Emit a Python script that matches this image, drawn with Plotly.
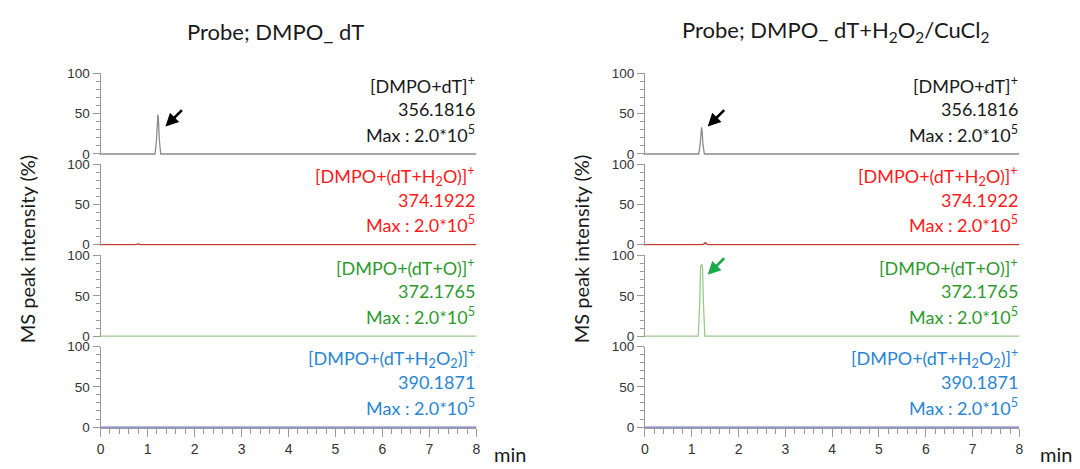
import plotly.graph_objects as go

W, H = 1080, 469

# ---------------- data ----------------
panel_titles = ["Probe; DMPO_ dT",
                "Probe; DMPO_ dT+H<sub>2</sub>O<sub>2</sub>/CuCl<sub>2</sub>"]

ion_names = ["[DMPO+dT]<sup>+</sup>",
             "[DMPO+(dT+H<sub>2</sub>O)]<sup>+</sup>",
             "[DMPO+(dT+O)]<sup>+</sup>",
             "[DMPO+(dT+H<sub>2</sub>O<sub>2</sub>)]<sup>+</sup>"]
ion_mz = ["356.1816", "374.1922", "372.1765", "390.1871"]
ion_max = ["Max : 2.0*10<sup>5</sup>"] * 4

# left column (DMPO + dT)
time_L1 = [0.0, 1.16, 1.19, 1.21, 1.22, 1.23, 1.25, 1.28, 8.0]
int_L1 = [0, 0, 18, 44, 49, 44, 18, 0, 0]
time_L2 = [0.0, 0.75, 0.80, 0.85, 8.0]
int_L2 = [0, 0, 1, 0, 0]
time_L3 = [0.0, 8.0]
int_L3 = [0, 0]
time_L4 = [0.0, 8.0]
int_L4 = [0, 0]

# right column (DMPO + dT + H2O2/CuCl2)
time_R1 = [0.0, 1.15, 1.18, 1.20, 1.21, 1.22, 1.24, 1.27, 8.0]
int_R1 = [0, 0, 12, 30, 33, 30, 12, 0, 0]
time_R2 = [0.0, 1.24, 1.29, 1.34, 8.0]
int_R2 = [0, 0, 2.5, 0, 0]
time_R3 = [0.0, 1.14, 1.17, 1.19, 1.21, 1.23, 1.25, 1.28, 8.0]
int_R3 = [0, 0, 40, 86, 89, 86, 40, 0, 0]
time_R4 = [0.0, 8.0]
int_R4 = [0, 0]

x_ticks = [0, 1, 2, 3, 4, 5, 6, 7, 8]
y_ticks = [0, 50, 100]

# arrows: (column, row, head_x, head_y, color)
arrows = [(0, 0, 1.38, 34, "#000000"),
          (1, 0, 1.34, 34, "#000000"),
          (1, 2, 1.34, 76, "#1aaa4a")]

# ---------------- style ----------------
line_colors = ["#8c8c8c", "#c0392b", "#9cc98a", "#7272c4"]
text_colors = ["#1a1a1a", "#ff1a1a", "#2e9a2e", "#2a86d4"]
FONT = "Lato"

series = [[(time_L1, int_L1), (time_L2, int_L2), (time_L3, int_L3), (time_L4, int_L4)],
          [(time_R1, int_R1), (time_R2, int_R2), (time_R3, int_R3), (time_R4, int_R4)]]

col_px = [(97.3, 476), (645.7, 1023)]
row_px = [(68.5, 151.5), (162, 245), (256, 339.3), (350, 433)]
text_off = (12, 37, 62)


def px_x(p):
    return p / W


def px_y(p):
    return 1 - p / H


fig = go.Figure()
layout = dict(width=W, height=H, margin=dict(l=0, r=0, t=0, b=0),
              paper_bgcolor="white", plot_bgcolor="white", showlegend=False)
annotations = []

YR = [-1.2, 100]
for c in range(2):
    for r in range(4):
        n = c * 4 + r + 1
        xs, ys = series[c][r]
        fig.add_trace(go.Scatter(x=xs, y=ys, mode="lines",
                                 line=dict(color=line_colors[r], width=1.3),
                                 xaxis=f"x{n}", yaxis=f"y{n}",
                                 hoverinfo="skip"))
        top, bot = row_px[r]
        x0, x1 = col_px[c]
        xa = dict(domain=[px_x(x0), px_x(x1)], range=[0, 8], anchor=f"y{n}",
                  showgrid=False, zeroline=False)
        if r == 3:
            xa.update(showline=True, linecolor="#9a9a9a", linewidth=1,
                      ticks="outside", ticklen=8, tickcolor="#9a9a9a",
                      tickvals=x_ticks, ticktext=[str(v) for v in x_ticks],
                      tickfont=dict(family="Liberation Sans", size=14, color="#333333"),
                      minor=dict(dtick=0.2, ticks="outside", ticklen=5,
                                 tickcolor="#9a9a9a", showgrid=False))
        else:
            xa.update(showline=False, showticklabels=False, ticks="")
        ya = dict(domain=[px_y(bot) - 1.0 / H, px_y(top)], range=YR, anchor=f"x{n}",
                  showgrid=False, zeroline=False, showline=True,
                  linecolor="#9a9a9a", linewidth=1, ticks="outside", ticklen=7,
                  tickcolor="#9a9a9a", tickvals=y_ticks,
                  ticktext=[str(v) for v in y_ticks],
                  tickfont=dict(family="Liberation Sans", size=13.5, color="#333333"),
                  minor=dict(tickvals=list(range(10, 100, 10)), ticks="outside",
                             ticklen=4, tickcolor="#9a9a9a", showgrid=False))
        layout[f"xaxis{n if n > 1 else ''}"] = xa
        layout[f"yaxis{n if n > 1 else ''}"] = ya

        texts = [ion_names[r], ion_mz[r], ion_max[r]]
        for t, off in zip(texts, text_off):
            annotations.append(dict(text=t, xref="paper", yref="paper",
                                    x=px_x(x1 + 1), y=px_y(top + off),
                                    xanchor="right", yanchor="middle",
                                    showarrow=False,
                                    font=dict(family=FONT, size=18,
                                              color=text_colors[r])))

# arrows
for c, r, hx, hy, col in arrows:
    n = c * 4 + r + 1
    annotations.append(dict(text="", x=hx, y=hy, xref=f"x{n}", yref=f"y{n}",
                            showarrow=True, arrowhead=2, arrowsize=1,
                            arrowwidth=2.6, arrowcolor=col, ax=18, ay=-18,
                            standoff=0))

# titles
for c, cx in enumerate([274, 838]):
    annotations.append(dict(text=panel_titles[c], xref="paper", yref="paper",
                            x=px_x(cx), y=px_y(25), xanchor="center",
                            yanchor="middle", showarrow=False,
                            font=dict(family=FONT, size=22, color="#1a1a1a")))

# y axis titles
for cx in [23, 581]:
    annotations.append(dict(text="MS peak intensity (%)", xref="paper",
                            yref="paper", x=px_x(cx), y=px_y(250),
                            xanchor="center", yanchor="middle", textangle=-90,
                            showarrow=False,
                            font=dict(family=FONT, size=20, color="#1a1a1a")))

# "min" labels
for cx in [510, 1060]:
    annotations.append(dict(text="min", xref="paper", yref="paper",
                            x=px_x(cx), y=px_y(461), xanchor="center",
                            yanchor="middle", showarrow=False,
                            font=dict(family=FONT, size=20, color="#1a1a1a")))

layout["annotations"] = annotations
fig.update_layout(**layout)
fig.write_html(
    "out.html",
    config={"displayModeBar": False},
    post_script=("document.documentElement.style.margin='0';"
                 "document.body.style.margin='0';"
                 "document.body.style.overflow='hidden';"
                 "var d=document.getElementById('{plot_id}');"
                 "d.style.position='fixed';d.style.left='0px';d.style.top='0px';"),
)
